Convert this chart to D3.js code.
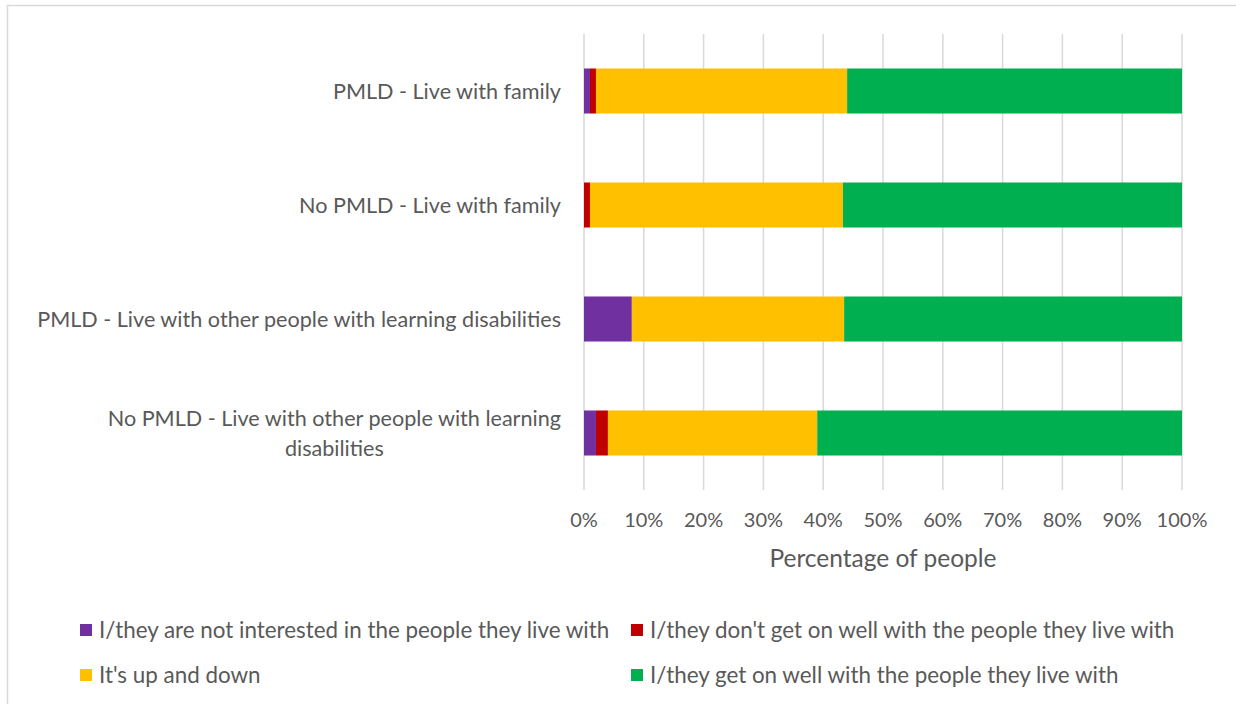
<!DOCTYPE html>
<html>
<head>
<meta charset="utf-8">
<script src="https://cdn.jsdelivr.net/npm/d3@7"></script>
<style>
  body { margin: 0; background: #fff; }
  text { font-family: Lato, "Open Sans", sans-serif; fill: #595959; }
</style>
</head>
<body>
<script>
// categories (top to bottom)
const categories = [
  "PMLD - Live with family",
  "No PMLD - Live with family",
  "PMLD - Live with other people with learning disabilities",
  "No PMLD - Live with other people with learning disabilities"
];
const seriesNames = [
  "I/they are not interested in the people they live with",
  "I/they don't get on well with the people they live with",
  "It's up and down",
  "I/they get on well with the people they live with"
];
const seriesColors = ["#7030a0", "#c00000", "#ffc000", "#00b050"];
// values in %
const notInterested = [1, 0, 8, 2];
const notWell = [1, 1, 0, 2];
const upDown = [42, 42.3, 35.5, 35];
const getOnWell = [56, 56.7, 56.5, 61];
const tickValues = [0, 10, 20, 30, 40, 50, 60, 70, 80, 90, 100];

const width = 1236, height = 704;
const svg = d3.select("body").append("svg")
  .attr("width", width)
  .attr("height", height);

// chart border
svg.append("rect")
  .attr("x", 7.5).attr("y", 5.5)
  .attr("width", width).attr("height", height)
  .style("fill", "none")
  .style("stroke", "#d9d9d9")
  .style("stroke-width", 1.5);

const x = d3.scaleLinear().domain([0, 100]).range([584, 1182]);
const y = d3.scaleBand().domain(categories).range([34, 490]).paddingInner(0.605).paddingOuter(0.3025);

// gridlines
svg.append("g").selectAll("line")
  .data(tickValues)
  .join("line")
  .attr("x1", d => x(d)).attr("x2", d => x(d))
  .attr("y1", 34).attr("y2", 490)
  .style("stroke", "#d9d9d9")
  .style("stroke-width", 1.5);

// stacked data
const rows = categories.map((c, i) => ({
  cat: c,
  v: [notInterested[i], notWell[i], upDown[i], getOnWell[i]]
}));

rows.forEach(r => {
  let acc = 0;
  r.v.forEach((val, k) => {
    if (val > 0) {
      svg.append("rect")
        .attr("x", x(acc))
        .attr("y", y(r.cat))
        .attr("width", x(acc + val) - x(acc))
        .attr("height", y.bandwidth())
        .style("fill", seriesColors[k]);
    }
    acc += val;
  });
});

// category labels (wrap long ones)
const labelSize = 21.6;
const maxLabelW = 542;
const measure = s => {
  const p = svg.append("text").attr("font-size", labelSize).text(s);
  const w = p.node().getComputedTextLength();
  p.remove();
  return w;
};
categories.forEach(c => {
  const cy = y(c) + y.bandwidth() / 2;
  const words = c.split(" ");
  let lines = [], line = [];
  words.forEach(w => {
    const test = line.concat(w).join(" ");
    if (measure(test) > maxLabelW && line.length) {
      lines.push(line.join(" "));
      line = [w];
    } else line.push(w);
  });
  lines.push(line.join(" "));
  // centred block, right aligned to the axis
  const blockW = d3.max(lines, measure);
  const centre = 561 - blockW / 2;
  lines.forEach((l, i) => {
    svg.append("text")
      .attr("font-size", labelSize)
      .attr("text-anchor", "middle")
      .attr("x", centre)
      .attr("y", cy + (i - (lines.length - 1) / 2) * 30)
      .attr("dy", "0.35em")
      .text(l);
  });
});

// x tick labels
svg.append("g").selectAll("text")
  .data(tickValues)
  .join("text")
  .attr("x", d => x(d))
  .attr("y", 527)
  .attr("text-anchor", "middle")
  .attr("font-size", 20)
  .text(d => d + "%");

// axis title
svg.append("text")
  .attr("x", 883).attr("y", 567)
  .attr("text-anchor", "middle")
  .attr("font-size", 24.5)
  .text("Percentage of people");

// legend
const legendPos = [[80, 630], [631, 630], [80, 675], [631, 675]];
seriesNames.forEach((s, i) => {
  const [lx, ly] = legendPos[i];
  svg.append("rect")
    .attr("x", lx).attr("y", ly - 6)
    .attr("width", 12).attr("height", 12)
    .style("fill", seriesColors[i]);
  svg.append("text")
    .attr("x", lx + 19).attr("y", ly)
    .attr("dy", "0.35em")
    .attr("font-size", 22.4)
    .text(s);
});
</script>
</body>
</html>
